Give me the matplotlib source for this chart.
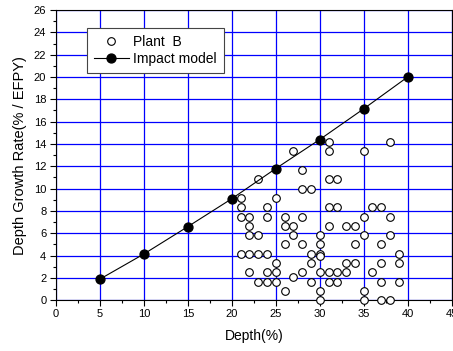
import numpy as np
import matplotlib.pyplot as plt
from matplotlib.ticker import MultipleLocator

plt.rcParams['font.family'] = ['Liberation Sans', 'DejaVu Sans']

# impact model line
model_depth = [5, 10, 15, 20, 25, 30, 35, 40]
model_rate = [1.9, 4.15, 6.6, 9.1, 11.8, 14.4, 17.15, 20.0]

# plant B measurements
plant_depth = [
    21, 21, 21, 21,
    22, 22, 22, 22, 22,
    23, 23, 23, 23,
    24, 24, 24, 24, 24,
    25, 25, 25, 25,
    26, 26, 26, 26,
    27, 27, 27, 27,
    28, 28, 28, 28, 28,
    29, 29, 29, 29,
    30, 30, 30, 30, 30, 30, 30,
    31, 31, 31, 31, 31, 31, 31,
    32, 32, 32, 32,
    33, 33, 33,
    34, 34, 34,
    35, 35, 35, 35, 35,
    36, 36,
    37, 37, 37, 37, 37,
    38, 38, 38, 38,
    39, 39, 39,
]
plant_rate = [
    9.17, 8.33, 7.5, 4.17,
    7.5, 6.67, 5.83, 4.17, 2.5,
    10.83, 5.83, 4.17, 1.67,
    8.33, 7.5, 4.17, 2.5, 1.67,
    9.17, 3.33, 2.5, 1.67,
    7.5, 6.67, 5.0, 0.83,
    13.33, 6.67, 5.83, 2.1,
    11.67, 10.0, 7.5, 5.0, 2.5,
    10.0, 4.17, 3.33, 1.67,
    5.83, 5.0, 4.17, 4.0, 2.5, 0.83, 0.0,
    14.17, 13.33, 10.83, 8.33, 6.67, 2.5, 1.67,
    10.83, 8.33, 2.5, 1.67,
    6.67, 3.33, 2.5,
    6.67, 5.0, 3.33,
    13.33, 7.5, 5.83, 0.83, 0.0,
    8.33, 2.5,
    8.33, 5.0, 3.33, 1.67, 0.0,
    14.17, 7.5, 5.83, 0.0,
    4.17, 3.33, 1.67,
]

fig = plt.figure(figsize = (4.53, 3.51), dpi = 100)
ax = fig.add_axes([0.1236, 0.1444, 0.8733, 0.8271])

ax.plot(
    plant_depth, plant_rate,
    linestyle = "none", marker = "o", markersize = 5.5,
    markerfacecolor = "white", markeredgecolor = "black", markeredgewidth = 0.8,
    label = "Plant  B", zorder = 3, clip_on = False
    )
ax.plot(
    model_depth, model_rate,
    color = "black", linewidth = 0.8, marker = "o", markersize = 6.4,
    markerfacecolor = "black", markeredgecolor = "black",
    label = "Impact model", zorder = 4
    )

ax.set_xlim(0, 45)
ax.set_ylim(0, 26)
ax.xaxis.set_major_locator(MultipleLocator(5))
ax.xaxis.set_minor_locator(MultipleLocator(2.5))
ax.yaxis.set_major_locator(MultipleLocator(2))
ax.yaxis.set_minor_locator(MultipleLocator(1))
ax.tick_params(which = "both", direction = "out", top = False, right = False, labelsize = 8)
ax.tick_params(which = "major", length = 4, width = 0.8)
ax.tick_params(which = "minor", length = 2.5, width = 0.8)
ax.tick_params(axis = "x", pad = 2.5)
ax.tick_params(axis = "y", pad = 3)

ax.grid(True, which = "major", color = "#0000ff", linewidth = 0.9)
ax.set_axisbelow(True)
for side in ["left", "bottom", "top", "right"]:
    ax.spines[side].set_linewidth(0.8)

ax.set_xlabel("Depth(%)", fontsize = 10, labelpad = 7)
ax.set_ylabel("Depth Growth Rate(% / EFPY)", fontsize = 10.5, labelpad = 5)

leg = ax.legend(
    loc = "upper left", bbox_to_anchor = (0.078, 0.939), borderaxespad = 0,
    fontsize = 10, fancybox = False, framealpha = 1, edgecolor = "#444444",
    handlelength = 2.5, handletextpad = 0.35, borderpad = 0.5, labelspacing = 0.25
    )
leg.get_frame().set_linewidth(0.8)

plt.savefig("out.png", dpi = 100)
plt.close()
